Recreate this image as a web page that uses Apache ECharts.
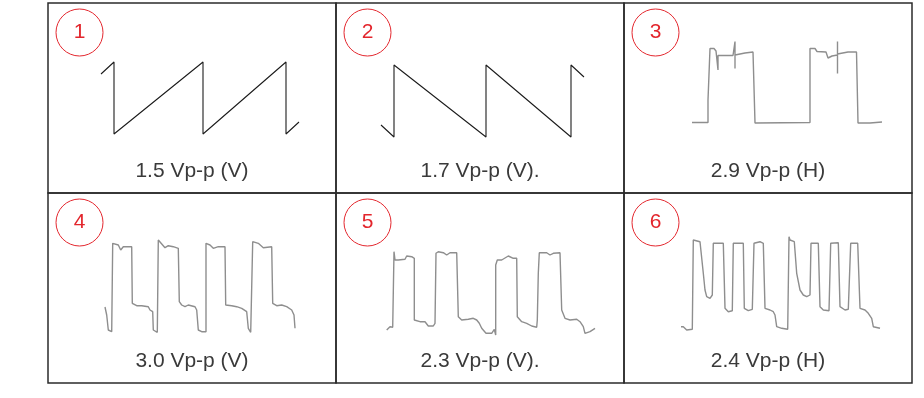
<!DOCTYPE html>
<html>
<head>
<meta charset="utf-8">
<script src="https://cdn.jsdelivr.net/npm/echarts@6/dist/echarts.min.js"></script>
<style>
  html, body { margin: 0; padding: 0; background: #fff; }
  #chart { width: 924px; height: 398px; }
</style>
</head>
<body>
<div id="chart"></div>
<script>
const panelNumbers = ['1', '2', '3', '4', '5', '6'];
const panelLabels = ['1.5 Vp-p (V)', '1.7 Vp-p (V).', '2.9 Vp-p (H)', '3.0 Vp-p (V)', '2.3 Vp-p (V).', '2.4 Vp-p (H)'];

// waveforms: [time, level] inside each panel (0..288 wide, 0..190 high, level grows upward)
const wave1 = [[53,119],[66,131],[66,59],[155,131],[155,59],[238,131],[238,59],[251,71]];
const wave2 = [[45,68],[58,56],[58,128],[150,56],[150,128],[235,56],[235,128],[248,116]];
const wave3 = [[68,70.5],[84,70.5],[84,93],[86,93],[86,144.5],[90,144.5],[92,142],[94,142],[94,123],[94,137.5],
  [109,137.5],[111,136],[111,151.5],[111,124.5],[111,138],[121,140],[129,141],[131,140],[131,70],[186,70.5],
  [186,144.5],[191,144.5],[193,141.5],[202,141],[204,135],[208,137],[213.5,138],[213.5,151.5],[213.5,119.5],
  [213.5,139],[224,141],[232.5,141],[234,139],[234,70],[246,70],[258,71]];
const wave4 = [[57,76],[58.7,68],[60.3,53],[63.7,51.3],[64.7,51.3],[64.7,139.7],[70.3,138],[72.7,133],[75.3,136.3],
  [83.7,136.3],[84.3,136.3],[84.3,79.7],[88.7,77.3],[93.7,77.3],[100.3,76.3],[102,73],[104.7,71.3],[105.3,53],
  [109.3,50.7],[110.3,50.7],[110.3,143],[112,142],[117,135.3],[120.3,137.3],[125.3,136.3],[130.3,134.7],
  [131.3,134.7],[131.3,81.3],[133.7,78],[137,76.3],[140.3,78],[147,76.3],[148.7,73],[150.3,53],[153.7,51.3],
  [158,51.3],[158,139.7],[162,138],[165.3,134.7],[170.3,136.3],[177,136.3],[177.7,136.3],[177.7,78],[183.7,77.3],
  [188.7,76.3],[193.7,74.7],[198.7,71.3],[200.3,54.7],[202.7,50.7],[204.7,50.7],[204.7,141.3],[210.3,139.7],
  [215.3,135.3],[223.7,136.3],[224.7,136.3],[224.7,79.7],[228.7,77.3],[233.7,78],[238.7,76.3],[243.7,73],
  [246,68],[247,54.7]];
const wave5 = [[50.7,53],[54,56.3],[56.7,55.7],[58,55.7],[58,131.3],[59,123],[62.3,123],[69,123.7],[70.7,127],
  [75.7,126.3],[77.3,124.7],[78.3,124.7],[78.3,63],[84,61.3],[89,61.3],[92.3,57],[97.3,57],[99,59.7],[100,59.7],
  [100,129.7],[102.3,131.3],[107.3,130.3],[110.7,128],[114,130.3],[120.7,130.3],[122.3,129.7],[122.3,66.3],
  [125.7,63],[132.3,63.7],[137.3,64.7],[140.7,63],[143.3,59.7],[145.7,54.7],[150,49.7],[155.7,49.7],[158.3,53.7],
  [159.7,48],[159.7,118],[161.3,123],[165.7,123],[167.3,124.7],[172.3,127],[177.3,124.7],[180.7,124.7],
  [181.3,66.3],[185.7,61.3],[190.7,59.7],[195.7,57],[200.7,55.7],[201.3,63],[202.3,109.7],[203.3,130.3],
  [210.7,130.3],[214,128],[217.3,129.7],[224,130.3],[225.7,129.7],[225.7,73],[229,64.7],[234,63],[240.7,63.7],
  [244,61.3],[247.3,56.3],[249,49.7],[254,51.3],[259,54.7]];
const wave6 = [[57,56.3],[59.3,56.3],[62.7,53],[68.3,53.7],[69.3,53.7],[69.3,143],[76,141.3],[77,141.3],
  [79.3,109.7],[81,93],[82.7,86.3],[86,84.7],[88.3,88],[89.3,88],[89.3,139.7],[99.3,139.7],[101,74.7],
  [104.3,71.3],[108.3,72.3],[109.3,72.3],[109.3,139.7],[119.3,139.7],[120.3,74.7],[124.3,72.3],[128.3,73.7],
  [130,139.7],[136,141.3],[139.3,139.7],[141,74.7],[146,73],[149.3,71.3],[151,68],[152.7,56.3],[157.7,54.7],
  [163.7,53.7],[165,53.7],[165,146.3],[166,143],[170.3,141.3],[172.7,109.7],[176,93],[179.3,88],[182.7,86.3],
  [186,88],[187,88],[187,139.7],[194.3,139.7],[196,76.3],[199.3,73],[205,72.3],[206.7,139.7],[214.3,140.3],
  [216,76.3],[221,73],[224.3,73.7],[226.7,139.7],[233.7,139.7],[236,74.7],[241,73],[244.3,69.7],[247.7,64.7],
  [249.3,56.3],[256,54.7]];

const waves = [wave1, wave2, wave3, wave4, wave5, wave6];
const waveColors = ['#1c1c1c', '#1c1c1c', '#8e8e8e', '#8e8e8e', '#8e8e8e', '#8e8e8e'];
const waveWidths = [1.1, 1.1, 1.4, 1.4, 1.4, 1.4];

const RED = '#e3262d';
const TABLE_LEFT = 48, TABLE_TOP = 3, CELL_W = 288, CELL_H = 190;

const grid = [], xAxis = [], yAxis = [], series = [], title = [];

waves.forEach((wave, i) => {
  const left = TABLE_LEFT + (i % 3) * CELL_W;
  const top = TABLE_TOP + Math.floor(i / 3) * CELL_H;

  grid.push({
    left, top, width: CELL_W, height: CELL_H,
    show: true, borderColor: '#2b2b2b', borderWidth: 1.5, backgroundColor: 'transparent'
  });
  xAxis.push({ type: 'value', gridIndex: i, min: 0, max: CELL_W, show: false });
  yAxis.push({ type: 'value', gridIndex: i, min: 0, max: CELL_H, show: false });
  series.push({
    type: 'line', xAxisIndex: i, yAxisIndex: i, data: wave,
    symbol: 'none', smooth: false, silent: true,
    lineStyle: { color: waveColors[i], width: waveWidths[i] }
  });

  // numbered circle
  title.push({
    text: '{c|' + panelNumbers[i] + '}',
    left: left + 8, top: top + 6, padding: 0,
    textStyle: {
      fontWeight: 'normal',
      rich: {
        c: {
          width: 47, height: 47, lineHeight: 47, align: 'center',
          fontFamily: 'Liberation Sans', fontSize: 21, fontWeight: 'normal', color: RED,
          borderColor: RED, borderWidth: 1, borderRadius: 24
        }
      }
    }
  });
  // label under waveform
  title.push({
    text: panelLabels[i],
    left: left + CELL_W / 2, top: top + 158, textAlign: 'center', padding: 0,
    textStyle: { fontFamily: 'Liberation Sans', fontSize: 21, fontWeight: 'normal', color: '#3a3a3a' }
  });
});

const chart = echarts.init(document.getElementById('chart'), null, { renderer: 'canvas' });
chart.setOption({ animation: false, title, grid, xAxis, yAxis, series });
</script>
</body>
</html>
